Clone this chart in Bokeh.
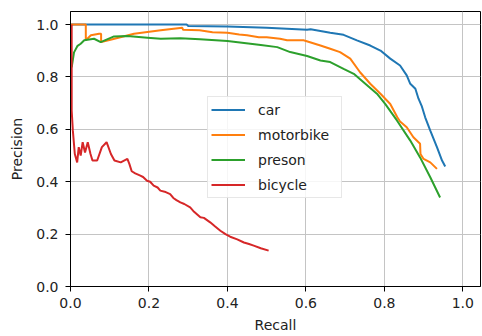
from bokeh.plotting import figure
from bokeh.models import Range1d, FixedTicker, PrintfTickFormatter, Legend, LegendItem
from bokeh.embed import file_html
from bokeh.resources import INLINE

# ---- data ----
car_recall = [0.0, 0.10, 0.20, 0.296, 0.30, 0.40, 0.50, 0.603, 0.612, 0.662, 0.696, 0.730,
              0.764, 0.790, 0.815, 0.840, 0.857, 0.866, 0.879, 0.887, 0.895, 0.904, 0.917,
              0.934, 0.947, 0.955]
car_precision = [1.0, 1.0, 1.0, 1.0, 0.995, 0.993, 0.988, 0.980, 0.982, 0.969, 0.961, 0.940,
                 0.920, 0.901, 0.870, 0.844, 0.806, 0.774, 0.755, 0.717, 0.690, 0.646, 0.595,
                 0.532, 0.481, 0.458]

moto_recall = [0.0, 0.039, 0.039, 0.052, 0.073, 0.078, 0.078, 0.102, 0.162, 0.230, 0.285,
               0.287, 0.329, 0.362, 0.400, 0.430, 0.450, 0.480, 0.500, 0.534, 0.552, 0.595,
               0.594, 0.637, 0.662, 0.687, 0.713, 0.738, 0.764, 0.790, 0.815, 0.833, 0.840,
               0.857, 0.874, 0.891, 0.892, 0.900, 0.917, 0.934]
moto_precision = [1.0, 1.0, 0.940, 0.959, 0.965, 0.965, 0.933, 0.942, 0.965, 0.978, 0.988,
                  0.980, 0.978, 0.971, 0.969, 0.962, 0.959, 0.952, 0.952, 0.946, 0.940, 0.940,
                  0.940, 0.920, 0.908, 0.895, 0.870, 0.818, 0.774, 0.736, 0.697, 0.646, 0.630,
                  0.608, 0.570, 0.545, 0.506, 0.487, 0.474, 0.449]

person_recall = [0.003, 0.009, 0.018, 0.026, 0.035, 0.060, 0.077, 0.111, 0.145, 0.196, 0.230,
                 0.280, 0.330, 0.400, 0.485, 0.527, 0.560, 0.603, 0.637, 0.662, 0.696, 0.722,
                 0.747, 0.781, 0.802, 0.832, 0.866, 0.891, 0.917, 0.942]
person_precision = [0.837, 0.894, 0.919, 0.927, 0.940, 0.946, 0.933, 0.955, 0.956, 0.950, 0.946,
                    0.948, 0.944, 0.937, 0.922, 0.914, 0.895, 0.880, 0.863, 0.857, 0.831, 0.812,
                    0.780, 0.736, 0.697, 0.634, 0.557, 0.493, 0.417, 0.340]

bike_recall = [0.003, 0.003, 0.006, 0.011, 0.017, 0.021, 0.026, 0.031, 0.037, 0.044, 0.051,
               0.056, 0.068, 0.080, 0.092, 0.103, 0.112, 0.128, 0.145, 0.150, 0.156, 0.165,
               0.178, 0.185, 0.195, 0.203, 0.212, 0.222, 0.229, 0.240, 0.254, 0.262, 0.270,
               0.280, 0.290, 0.305, 0.315, 0.331, 0.340, 0.356, 0.368, 0.382, 0.395, 0.407,
               0.425, 0.442, 0.455, 0.467, 0.485, 0.505]
bike_precision = [1.0, 0.672, 0.595, 0.506, 0.474, 0.532, 0.500, 0.551, 0.512, 0.551, 0.506,
                  0.481, 0.481, 0.532, 0.551, 0.506, 0.481, 0.474, 0.487, 0.468, 0.440, 0.432,
                  0.423, 0.418, 0.404, 0.400, 0.385, 0.378, 0.366, 0.362, 0.353, 0.338, 0.330,
                  0.321, 0.315, 0.302, 0.285, 0.264, 0.262, 0.245, 0.230, 0.213, 0.200, 0.190,
                  0.180, 0.168, 0.162, 0.156, 0.146, 0.137]

series = [("car", car_recall, car_precision, "#1f77b4"),
          ("motorbike", moto_recall, moto_precision, "#ff7f0e"),
          ("preson", person_recall, person_precision, "#2ca02c"),
          ("bicycle", bike_recall, bike_precision, "#d62728")]

ticks = [0.0, 0.2, 0.4, 0.6, 0.8, 1.0]

FONT = "DejaVu Sans"

p = figure(width=482, height=336, output_backend="svg", toolbar_location=None,
           x_range=Range1d(0, 1.045), y_range=Range1d(0, 1.05))
p.min_border_left = 70
p.min_border_right = 2
p.min_border_top = 11
p.min_border_bottom = 50
p.background_fill_color = "white"
p.border_fill_color = "white"
p.outline_line_color = "black"
p.outline_line_width = 1

for ax in (p.xaxis[0], p.yaxis[0]):
    ax.ticker = FixedTicker(ticks=ticks)
    ax.formatter = PrintfTickFormatter(format="%.1f")
    ax.minor_tick_line_color = None
    ax.major_tick_in = 0
    ax.major_tick_out = 5
    ax.major_tick_line_color = "black"
    ax.axis_line_color = "black"
    ax.major_label_text_font = FONT
    ax.major_label_text_font_size = "14px"
    ax.major_label_text_color = "#222222"
    ax.axis_label_text_font = FONT
    ax.axis_label_text_font_size = "14px"
    ax.axis_label_text_font_style = "normal"
    ax.axis_label_text_color = "#222222"

p.xaxis.axis_label = "Recall"
p.yaxis.axis_label = "Precision"
p.xaxis.major_label_standoff = 6
p.yaxis.major_label_standoff = 7
p.xaxis.axis_label_standoff = 6
p.yaxis.axis_label_standoff = 8

p.grid.grid_line_color = "#c4c4c4"
p.grid.grid_line_width = 1

items = []
for name, xs, ys, col in series:
    r = p.line(xs, ys, line_color=col, line_width=2)
    items.append(LegendItem(label=name, renderers=[r]))

legend = Legend(items=items, location=(137, 88))
legend.label_text_font = FONT
legend.label_text_font_size = "14px"
legend.label_text_color = "#222222"
legend.glyph_width = 34
legend.glyph_height = 19
legend.label_height = 19
legend.label_width = 80
legend.label_standoff = 13
legend.padding = 3
legend.spacing = 6
legend.margin = 0
legend.border_line_color = "#d0d0d0"
legend.border_line_width = 1
legend.background_fill_color = "white"
legend.background_fill_alpha = 0.85
p.add_layout(legend, "center")

open("out.html", "w").write(file_html(p, INLINE))
